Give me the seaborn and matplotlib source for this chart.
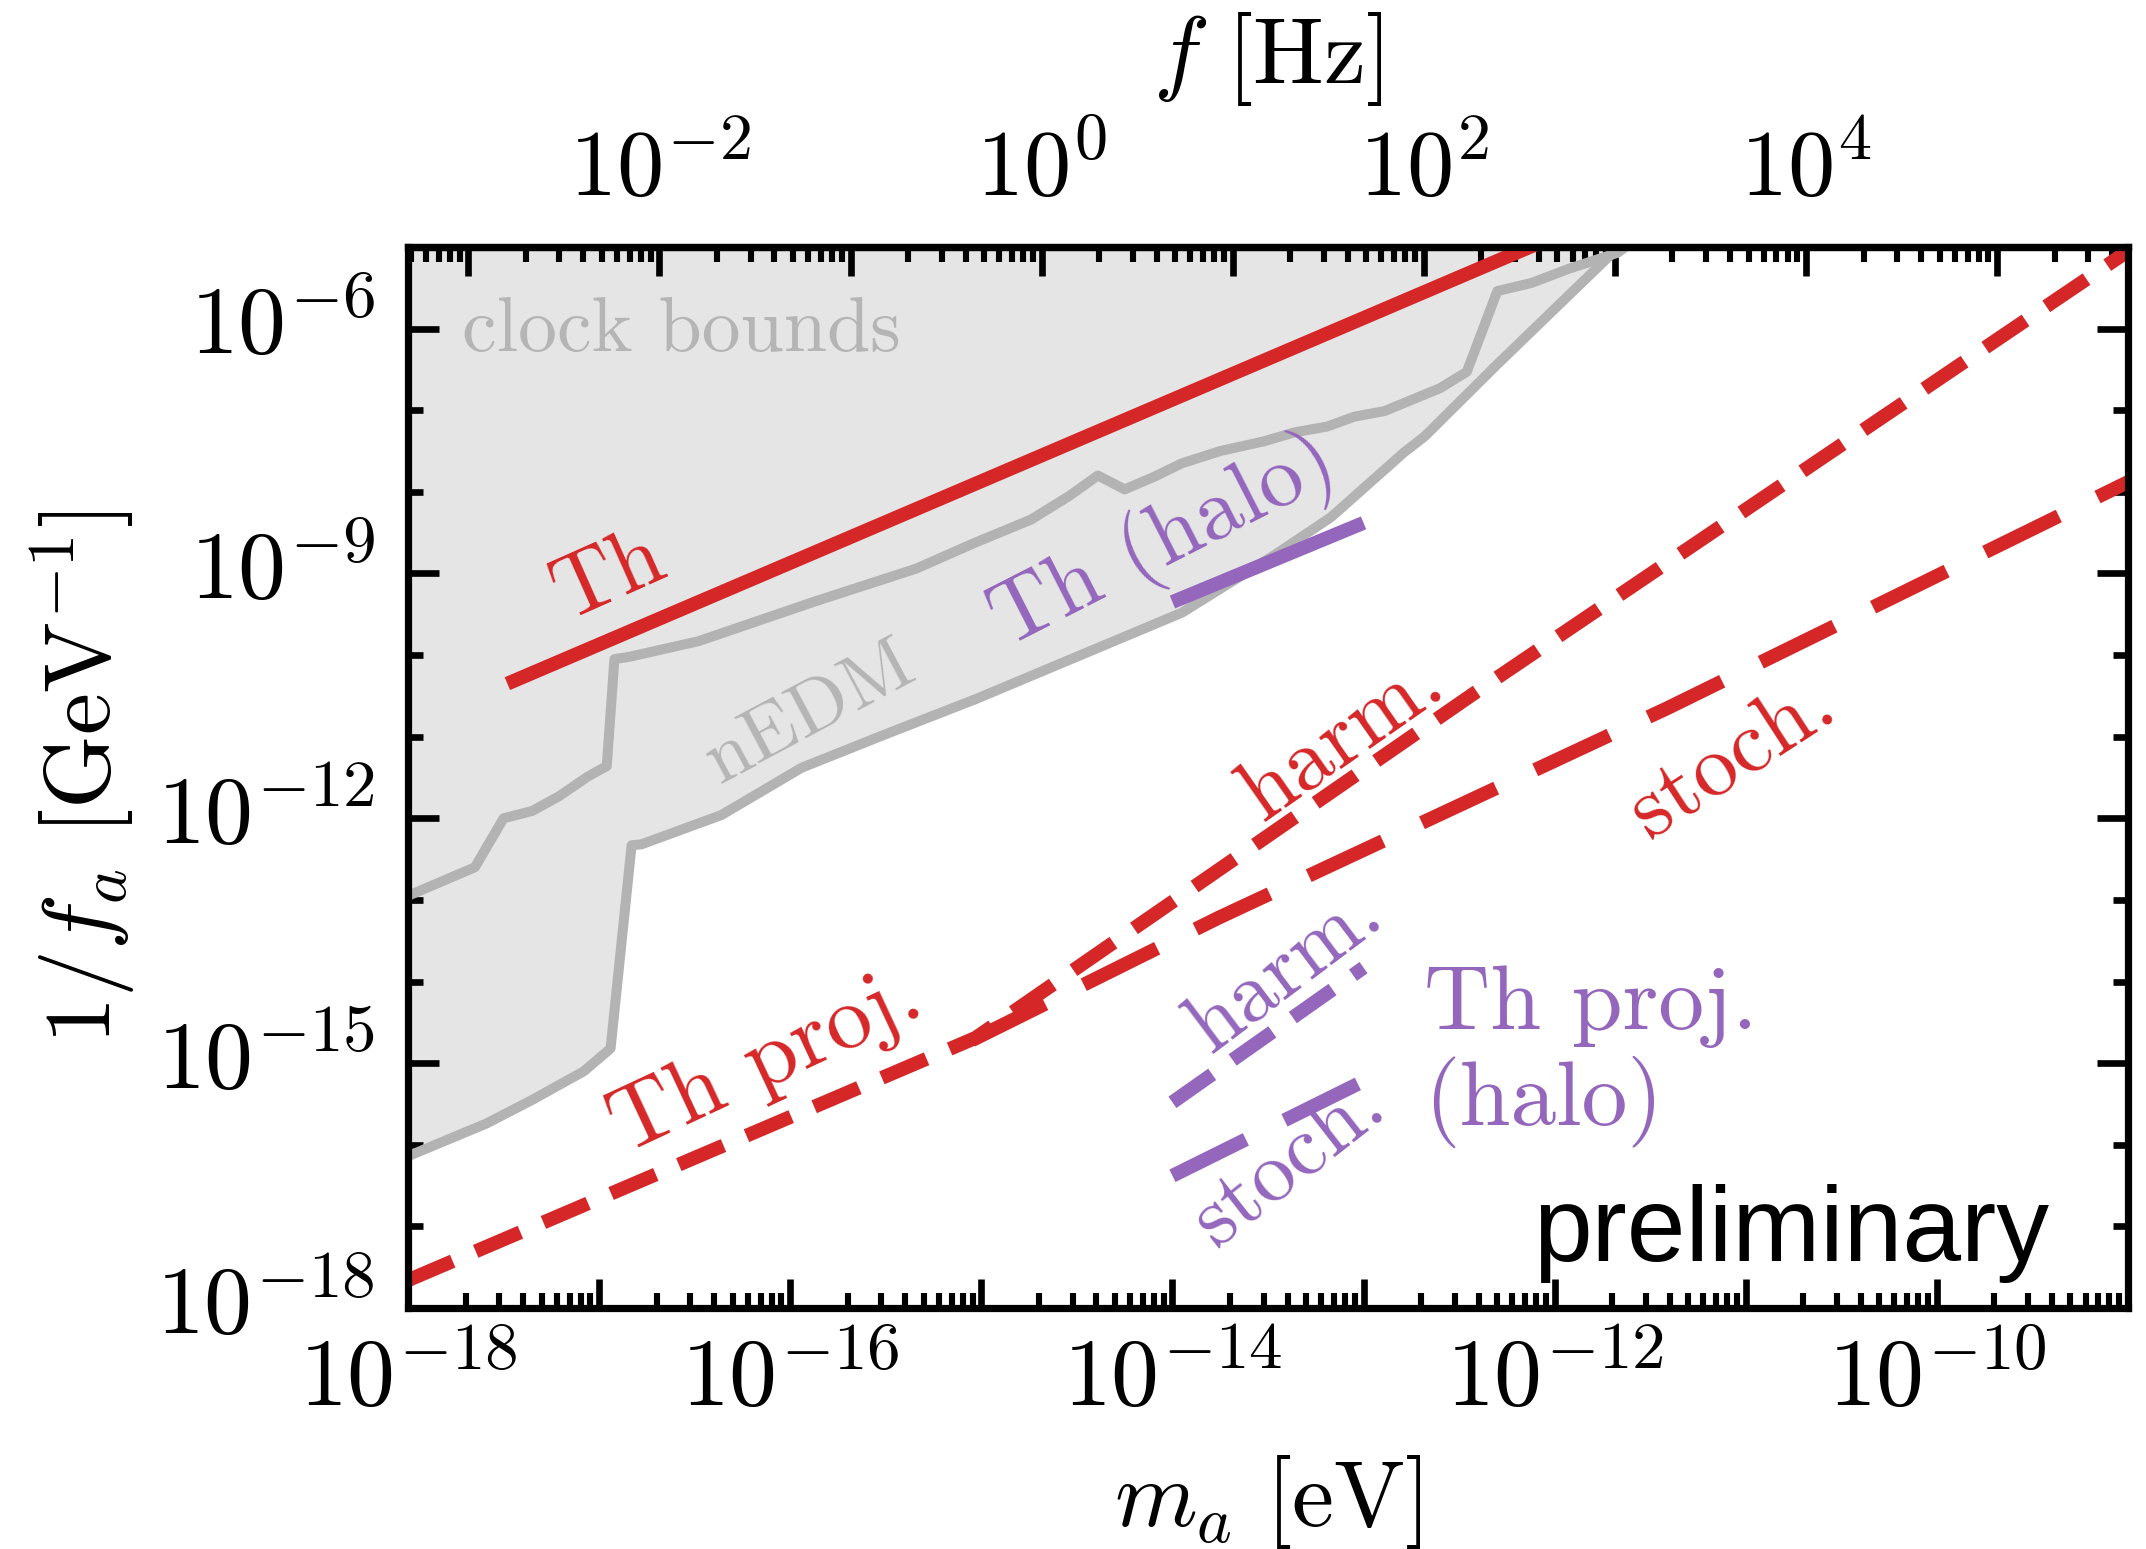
import numpy as np
import pandas as pd
import matplotlib
matplotlib.use("Agg")
import matplotlib.pyplot as plt
import matplotlib.transforms as mtransforms
import seaborn as sns
from matplotlib.ticker import LogLocator, FixedLocator, NullFormatter, FuncFormatter

# ---------------- data (log10 values) ----------------
# clock bounds / nEDM region: inner (upper) gray curve
nedm_upper_logm = [-18.00, -17.65, -17.50, -17.35, -17.21, -17.06, -16.96, -16.92, -16.84,
                   -16.48, -15.88, -15.34, -15.03, -14.74, -14.54, -14.39, -14.25, -14.10,
                   -13.95, -13.75, -13.52, -13.36, -13.19, -13.05, -12.89, -12.60, -12.46,
                   -12.30, -12.12, -11.93, -11.67, -11.63]
nedm_upper_logy = [-12.95, -12.60, -12.00, -11.91, -11.73, -11.49, -11.36, -10.05, -10.02,
                   -9.83, -9.35, -8.94, -8.62, -8.34, -8.05, -7.80, -7.97, -7.82,
                   -7.65, -7.50, -7.38, -7.27, -7.20, -7.08, -7.01, -6.73, -6.53,
                   -5.54, -5.44, -5.27, -5.07, -5.00]
# outer (lower) gray curve = edge of the shaded region
nedm_lower_logm = [-18.00, -17.59, -17.35, -17.08, -16.94, -16.83, -16.78, -16.36, -15.94,
                   -15.49, -15.03, -13.95, -13.47, -13.17, -12.79, -12.68, -12.31, -11.93,
                   -11.70, -11.64]
nedm_lower_logy = [-16.14, -15.74, -15.45, -15.10, -14.82, -12.33, -12.32, -11.96, -11.38,
                   -10.96, -10.54, -9.48, -8.78, -8.31, -7.52, -7.32, -6.46, -5.60,
                   -5.08, -5.00]

# thorium clock constraints / projections
th_logm = [-17.48, -12.00]
th_logy = [-10.35, -4.87]
th_halo_logm = [-14.00, -13.00]
th_halo_logy = [-9.35, -8.38]
proj_harm_logm = [-18.00, -15.03, -12.41, -9.00]
proj_harm_logy = [-17.66, -14.69, -10.45, -5.05]
proj_stoch_logm = [-15.05, -13.76, -11.41, -9.00]
proj_stoch_logy = [-14.72, -13.22, -10.65, -7.88]
halo_harm_logm = [-14.00, -13.00]
halo_harm_logy = [-15.48, -13.83]
halo_stoch_logm = [-14.00, -13.00]
halo_stoch_logy = [-16.38, -15.22]

x_decades = list(range(-18, -8))
y_label_decades = [-18, -15, -12, -9, -6]
y_decades = list(range(-18, -4))
top_decades = list(range(-3, 6))

# conversion m_a [eV] -> f [Hz]  (f = 2 m_a / h)
H_EVS = 4.135667e-15


def m2f(m):
    return 2.0 * np.asarray(m) / H_EVS


def f2m(f):
    return np.asarray(f) * H_EVS / 2.0


RED = "#d62728"
PURPLE = "#9467bd"
GRAY_LINE = "#b3b3b3"
GRAY_FILL = "#e5e5e5"

sns.set_theme(style="ticks")
plt.rcParams["mathtext.fontset"] = "cm"
plt.rcParams["font.family"] = ["DejaVu Sans"]
plt.rcParams["axes.linewidth"] = 2.4
plt.rcParams["lines.solid_capstyle"] = "butt"
plt.rcParams["lines.dash_capstyle"] = "butt"
for k in ["text.color", "axes.labelcolor", "xtick.color", "ytick.color",
          "xtick.labelcolor", "ytick.labelcolor", "axes.edgecolor"]:
    plt.rcParams[k] = "black"

fig = plt.figure(figsize=(2146 / 200, 1549 / 200), dpi=200)
ax = fig.add_axes([408 / 2146, 1 - 1308 / 1549, (2128 - 408) / 2146, (1308 - 247) / 1549])
ax.set_facecolor("white")
ax.set_xscale("log")
ax.set_yscale("log")


def p10(a):
    return 10.0 ** np.asarray(a, dtype=float)


def sline(logm, logy, color, lw, dashes=None, z=3):
    df = pd.DataFrame({"m": p10(logm), "y": p10(logy)})
    sns.lineplot(data=df, x="m", y="y", ax=ax, color=color, linewidth=lw,
                 sort=False, estimator=None, zorder=z, legend=False)
    ln = ax.lines[-1]
    if dashes is not None:
        ln.set_dashes(dashes)
    ln.set_solid_capstyle("butt")
    ln.set_dash_capstyle("butt")
    return ln


# shaded region
ax.fill_between(p10(nedm_lower_logm), p10(nedm_lower_logy), 1e-3,
                color=GRAY_FILL, lw=0, zorder=0)
sline(nedm_lower_logm, nedm_lower_logy, GRAY_LINE, 3.6, z=1)
sline(nedm_upper_logm, nedm_upper_logy, GRAY_LINE, 3.6, z=1)

# thorium lines
sline(th_logm, th_logy, RED, 5.0, z=4)
sline(th_halo_logm, th_halo_logy, PURPLE, 5.0, z=4)
sline(proj_harm_logm, proj_harm_logy, RED, 5.0, dashes=(3.5, 1.8), z=4)
sline(proj_stoch_logm, proj_stoch_logy, RED, 5.0, dashes=(5.9, 3.1), z=4)
sline(halo_harm_logm, halo_harm_logy, PURPLE, 5.0, dashes=(3.5, 1.8), z=4)
sline(halo_stoch_logm, halo_stoch_logy, PURPLE, 5.0, dashes=(5.9, 3.1), z=4)

ax.set_xlim(1e-18, 1e-9)
ax.set_ylim(1e-18, 1e-5)

# ---------------- ticks ----------------
def xfmt(v, pos):
    e = int(round(np.log10(v)))
    return r"$10^{%d}$" % e if e % 2 == 0 else ""


ax.xaxis.set_major_locator(FixedLocator(p10(x_decades)))
ax.xaxis.set_major_formatter(FuncFormatter(xfmt))
ax.xaxis.set_minor_locator(LogLocator(base=10, subs=np.arange(2, 10), numticks=200))
ax.xaxis.set_minor_formatter(NullFormatter())

ax.yaxis.set_major_locator(FixedLocator(p10(y_label_decades)))
ax.yaxis.set_major_formatter(FuncFormatter(lambda v, p: r"$10^{%d}$" % int(round(np.log10(v)))))
ax.yaxis.set_minor_locator(FixedLocator(p10(y_decades)))
ax.yaxis.set_minor_formatter(NullFormatter())

ax.tick_params(axis="x", which="major", direction="in", length=10.5, width=2.4,
               bottom=True, top=False, labelsize=34.5, pad=9)
ax.tick_params(axis="x", which="minor", direction="in", length=5.4, width=2.2,
               bottom=True, top=False)
ax.tick_params(axis="y", which="major", direction="in", length=11, width=2.4,
               left=True, right=True, labelsize=34.5, pad=12)
ax.tick_params(axis="y", which="minor", direction="in", length=5.4, width=2.4,
               left=True, right=True)
for s in ax.spines.values():
    s.set_linewidth(2.6)
    s.set_color("black")
    s.set_zorder(10)

# raise the y tick labels slightly, as in the reference
shift_up = mtransforms.ScaledTranslation(0, 4 / 72, fig.dpi_scale_trans)
for lbl in ax.get_yticklabels():
    lbl.set_transform(lbl.get_transform() + shift_up)

secax = ax.secondary_xaxis("top", functions=(m2f, f2m))
secax.xaxis.set_major_locator(FixedLocator(p10(top_decades)))
secax.xaxis.set_major_formatter(FuncFormatter(xfmt))
secax.xaxis.set_minor_locator(LogLocator(base=10, subs=np.arange(2, 10), numticks=200))
secax.xaxis.set_minor_formatter(NullFormatter())
secax.tick_params(axis="x", which="major", direction="in", length=10.5, width=2.4,
                  labelsize=34, pad=11, colors="black")
secax.tick_params(axis="x", which="minor", direction="in", length=5.4, width=2.2,
                  colors="black")
secax.spines["top"].set_linewidth(2.6)
secax.set_xlabel(r"$f\ [\mathrm{Hz}]$", fontsize=34, labelpad=15, color="black")

ax.set_xlabel(r"$m_a\ [\mathrm{eV}]$", fontsize=34)
ax.xaxis.set_label_coords(0.5, -0.137)
ax.set_ylabel(r"$1/f_a\ [\mathrm{GeV}^{-1}]$", fontsize=34)
ax.yaxis.set_label_coords(-0.157, 0.5)

# ---------------- annotations ----------------
SERIF = "cmr10"


def lab(lm, ly, s, color, rot=0, size=30, ha="center", va="center", family=SERIF):
    ax.text(10 ** lm, 10 ** ly, s, color=color, rotation=rot, rotation_mode="anchor",
            ha=ha, va=va, fontsize=size, family=family, zorder=6)


lab(-16.567, -6.04, "clock bounds", "#b5b5b5", 0, 28)
lab(-16.947, -9.04, "Th", RED, 24, 32)
lab(-14.046, -8.62, "Th (halo)", PURPLE, 27, 32)
lab(-15.894, -10.72, "nEDM", "#b5b5b5", 28, 28)
lab(-13.11, -11.02, "harm.", RED, 35, 32)
lab(-11.07, -11.27, "stoch.", RED, 33, 32)
lab(-16.123, -15.0, "Th proj.", RED, 25, 33)
lab(-13.41, -13.86, "harm.", PURPLE, 37, 31)
lab(-13.39, -16.22, "stoch.", PURPLE, 38, 31)
lab(-12.685, -14.58, "Th proj.", PURPLE, 0, 33, ha="left", va="baseline")
lab(-12.685, -15.755, "(halo)", PURPLE, 0, 33, ha="left", va="baseline")
lab(-9.411, -17.43, "preliminary", "black", 0, 38, ha="right", va="baseline",
    family="Liberation Sans")

fig.savefig("out.png", dpi=200)
